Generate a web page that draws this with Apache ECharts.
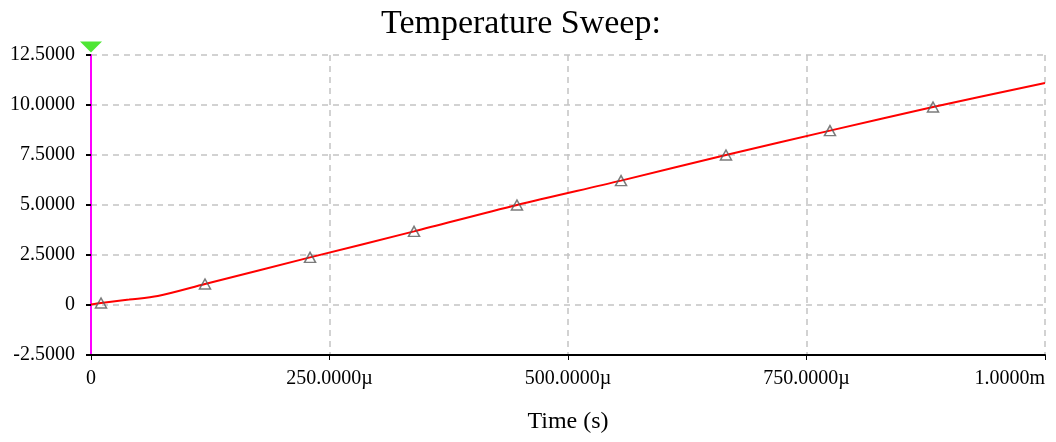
<!DOCTYPE html>
<html>
<head>
<meta charset="utf-8">
<title>Temperature Sweep</title>
<script src="https://cdn.jsdelivr.net/npm/echarts@6/dist/echarts.min.js"></script>
<style>
  html, body { margin: 0; padding: 0; background: #ffffff; }
  #chart { width: 1056px; height: 442px; }
</style>
</head>
<body>
<div id="chart"></div>
<script>
// Trace samples: time in microseconds, value of the swept quantity
const traceTime  = [0, 10.5, 40, 70, 119.5, 229.6, 338.6, 446.5, 555.6, 665.6, 774.6, 882.6, 1000];
const traceValue = [0.03, 0.1, 0.27, 0.45, 1.05, 2.38, 3.68, 5.0, 6.22, 7.5, 8.72, 9.9, 11.1];

// Trace marker (triangle) positions along the curve
const markerTime  = [10.5, 119.5, 229.6, 338.6, 446.5, 555.6, 665.6, 774.6, 882.6];
const markerValue = [0.1, 1.05, 2.38, 3.68, 5.0, 6.22, 7.5, 8.72, 9.9];

// Axis tick labels
const xTickValues = [0, 250, 500, 750, 1000];
const xTickLabels = ['0', '250.0000\u00b5', '500.0000\u00b5', '750.0000\u00b5', '1.0000m'];
const yTickValues = [-2.5, 0, 2.5, 5, 7.5, 10, 12.5];
const yTickLabels = ['-2.5000', '0', '2.5000', '5.0000', '7.5000', '10.0000', '12.5000'];

const FONT = '"Liberation Serif", "Times New Roman", serif';

function labelFor(values, labels) {
  return function (v) {
    for (let i = 0; i < values.length; i++) {
      if (Math.abs(values[i] - v) < 1e-9) return labels[i];
    }
    return '';
  };
}

const chart = echarts.init(document.getElementById('chart'), null, { renderer: 'canvas' });

chart.setOption({
  animation: false,
  backgroundColor: '#ffffff',
  title: {
    text: 'Temperature Sweep:',
    left: 376,
    top: 2,
    textStyle: { fontFamily: FONT, fontSize: 34, fontWeight: 'normal', color: '#000000' }
  },
  grid: { left: 91, right: 11, top: 55, bottom: 87, containLabel: false, outerBoundsMode: 'none' },
  xAxis: {
    type: 'value',
    min: 0,
    max: 1000,
    interval: 250,
    name: 'Time (s)',
    nameLocation: 'middle',
    nameGap: 55,
    nameTextStyle: { fontFamily: FONT, fontSize: 24, color: '#000000' },
    axisLine: { show: true, onZero: false, lineStyle: { color: '#000000', width: 2 } },
    axisTick: { show: true, length: 5, lineStyle: { color: '#000000', width: 1 } },
    axisLabel: {
      margin: 14,
      fontFamily: FONT,
      fontSize: 20,
      color: '#000000',
      alignMaxLabel: 'right',
      formatter: labelFor(xTickValues, xTickLabels)
    },
    splitLine: { show: true, lineStyle: { color: '#c4c4c4', type: [6, 5], width: 1.5 } }
  },
  yAxis: {
    type: 'value',
    min: -2.5,
    max: 12.5,
    interval: 2.5,
    axisLine: { show: true, onZero: false, lineStyle: { color: '#ff00ff', width: 2 } },
    axisTick: { show: true, length: 5, lineStyle: { color: '#000000', width: 2 } },
    axisLabel: {
      margin: 16,
      fontFamily: FONT,
      fontSize: 20,
      color: '#000000',
      formatter: labelFor(yTickValues, yTickLabels)
    },
    splitLine: { show: true, lineStyle: { color: '#c4c4c4', type: [6, 5], width: 1.5 } }
  },
  series: [
    {
      name: 'trace',
      type: 'line',
      data: traceTime.map((t, i) => [t, traceValue[i]]),
      showSymbol: false,
      smooth: 0.3,
      lineStyle: { color: '#ff0000', width: 2 },
      z: 3
    },
    {
      name: 'markers',
      type: 'scatter',
      data: markerTime.map((t, i) => [t, markerValue[i]]),
      symbol: 'triangle',
      symbolSize: [11, 10],
      itemStyle: { color: 'rgba(255,255,255,0)', borderColor: '#5a5a5a', borderWidth: 1.5 },
      z: 4
    },
    {
      // cursor flag at the top of the y axis
      name: 'cursor',
      type: 'scatter',
      data: [[0, 12.5]],
      symbol: 'triangle',
      symbolRotate: 180,
      symbolSize: [22, 11],
      symbolOffset: [0, -8],
      itemStyle: { color: '#22e000' },
      z: 5,
      silent: true
    }
  ]
});
</script>
</body>
</html>
